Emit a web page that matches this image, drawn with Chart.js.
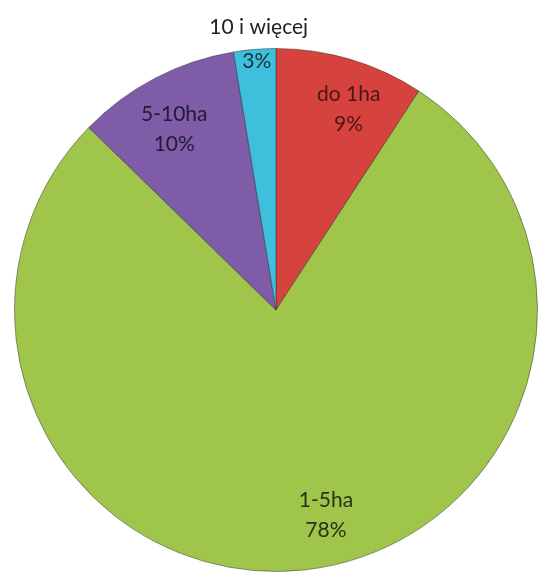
<!DOCTYPE html>
<html>
<head>
<meta charset="utf-8">
<script src="https://cdn.jsdelivr.net/npm/chart.js@4/dist/chart.umd.min.js"></script>
<style>
  html, body { margin: 0; padding: 0; background: #fff; }
  #wrap { width: 538px; height: 576px; position: relative; }
</style>
</head>
<body>
<div id="wrap"><canvas id="pie"></canvas></div>
<script>
// data
const labels = ["do 1ha", "1-5ha", "5-10ha", "10 i więcej"];
const values = [9.2, 78.1, 10.1, 2.6];
const colors = ["#d6433e", "#9fc54b", "#7e5ca7", "#3ec0dc"];
const edgeColors = ["#b3302c", "#86a838", "#664690", "#2aa2bd"];
const textColors = ["#4a1614", "#26331a", "#221a33", "#16323a"];

const FONT = "Lato, 'Open Sans', sans-serif";
// small nudges so labels sit where the original put them
const nudge = [[13, 0], [27, -3], [-5, 5], [0, 0]];

function sliceFill (ctx) {
  const arc = ctx.element;
  const i = ctx.dataIndex;
  if (!arc || !arc.outerRadius) return colors[i];
  const g = ctx.chart.ctx.createRadialGradient(arc.x, arc.y, 0, arc.x, arc.y, arc.outerRadius);
  g.addColorStop(0, colors[i]);
  g.addColorStop(0.9, colors[i]);
  g.addColorStop(0.97, edgeColors[i]);
  g.addColorStop(1, edgeColors[i]);
  return g;
}

const sliceLabels = {
  id: "sliceLabels",
  afterDatasetsDraw (chart) {
    const c = chart.ctx;
    const meta = chart.getDatasetMeta(0);
    const total = values.reduce((a, b) => a + b, 0);
    c.save();
    c.font = "21px " + FONT;
    c.textAlign = "center";
    c.textBaseline = "middle";
    meta.data.forEach((arc, i) => {
      const mid = (arc.startAngle + arc.endAngle) / 2;
      const pct = Math.round(values[i] / total * 100) + "%";
      c.fillStyle = textColors[i];
      if (i === 3) {
        // narrow slice: name above the pie, percent at the rim
        const r = arc.outerRadius * 0.95;
        const px = arc.x + Math.cos(mid) * r;
        const py = arc.y + Math.sin(mid) * r;
        c.fillText(pct, px + 1, py - 1);
        c.fillStyle = "#222";
        c.fillText(labels[i], px + 3, py - 35);
      } else {
        const r = arc.outerRadius * 0.8;
        const px = arc.x + Math.cos(mid) * r + nudge[i][0];
        const py = arc.y + Math.sin(mid) * r + nudge[i][1];
        c.fillText(labels[i], px, py - 15);
        c.fillText(pct, px, py + 15);
      }
    });
    c.restore();
  }
};

new Chart(document.getElementById("pie"), {
  type: "pie",
  data: {
    labels,
    datasets: [{
      data: values,
      backgroundColor: sliceFill,
      borderColor: "rgba(40,40,40,0.45)",
      borderWidth: 1
    }]
  },
  options: {
    responsive: true,
    maintainAspectRatio: false,
    animation: false,
    layout: { padding: { top: 44, left: 14, right: 0, bottom: 0 } },
    plugins: {
      legend: { display: false },
      tooltip: { enabled: false }
    }
  },
  plugins: [sliceLabels]
});
</script>
</body>
</html>
